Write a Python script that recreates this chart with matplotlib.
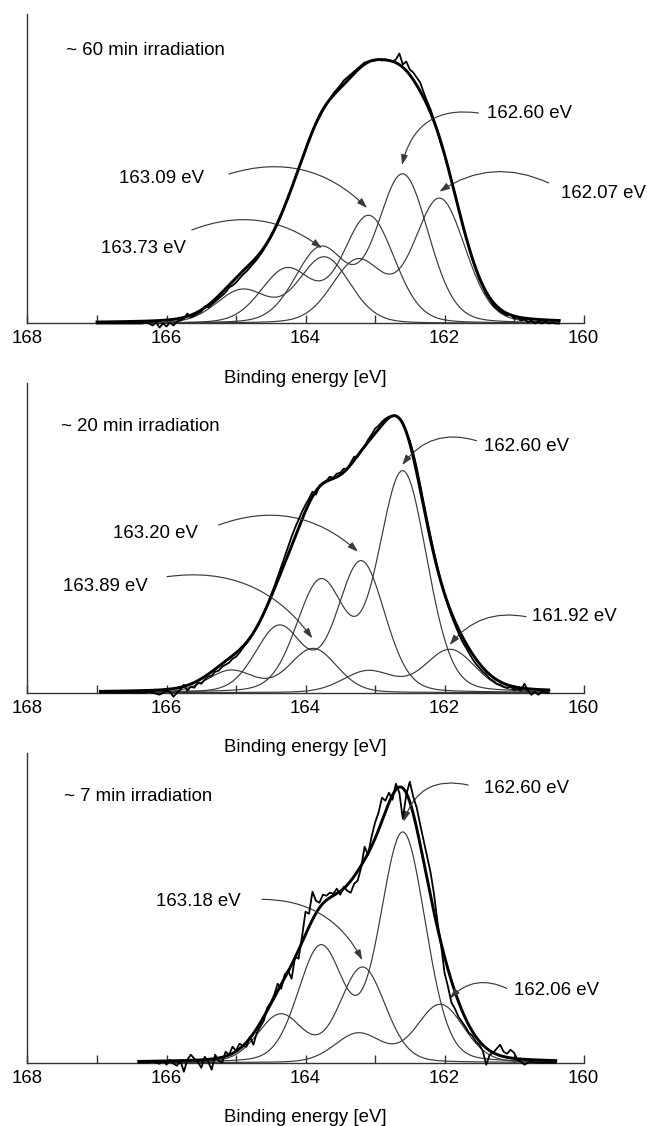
import numpy as np
import matplotlib
matplotlib.use('Agg')
import matplotlib.pyplot as plt

plt.rcParams['font.family'] = ['Liberation Sans', 'DejaVu Sans']

# ------------------------------------------------------------------ data
x_label = 'Binding energy [eV]'
x_major_ticks = [168, 166, 164, 162, 160]
x_minor_ticks = [167, 165, 163, 161]
SO_SPLIT = 1.18      # S 2p3/2 - 2p1/2 splitting (eV)
SO_RATIO = 0.5       # 2p1/2 : 2p3/2 ratio
STEP = 0.05          # data spacing (eV)
LORENTZ = 0.15       # Lorentzian fraction of the line shape

# ~60 min
p1_title = '~ 60 min irradiation'
p1_centers = [162.07, 162.60, 163.09, 163.73]
p1_heights = [124, 148, 107, 66]
p1_fwhm = [0.87, 0.87, 0.87, 0.87]
p1_start = 167.0
p1_counts = [0, 0, 0, 0, 0, 0, 0, 0, 0, 0, 0, 0, 0, 0, 1, 0,
             -2, 1, -4, 0, -3, 1, -2, 2, 3, 5, 10, 6, 8, 10, 12, 17, 16, 19,
             22, 25, 28, 31, 36, 38, 41, 45, 49, 52, 56, 60, 64, 69, 74, 80, 86,
             93, 100, 108, 117, 126, 135, 145, 155, 164, 174, 184, 192, 200, 206, 213, 219, 224, 230, 234, 238,
             243, 246, 249, 252, 255, 258, 261, 262, 263, 263, 264, 263, 264, 263, 262, 264, 270, 259, 262, 254, 251, 246,
             241, 231, 222, 214, 203, 193, 179, 169, 156, 143, 130, 115, 102, 88, 77, 64, 54, 44, 37, 29,
             24, 18, 15, 12, 10, 8, 9, 5, 6, 3, 5, 1, 3, 0, 2, 0, 2, 0, 1, 0, 0]
p1_labels = ['162.60 eV', '162.07 eV', '163.09 eV', '163.73 eV']

# ~20 min
p2_title = '~ 20 min irradiation'
p2_centers = [161.92, 162.60, 163.20, 163.89]
p2_heights = [43, 220, 131, 44]
p2_fwhm = [0.85, 0.82, 0.80, 0.80]
p2_start = 166.95
p2_counts = [0, 0, 0, 0, 0, 0, 0, 0, 0, 0, 0, 0, 0, 0,
             1, 0, -1, -2, 0, 2, 1, -4, 0, 3, 8, 2,
             6, 5, 10, 9, 13, 16, 17, 21, 22, 26, 28, 30, 34, 36, 40,
             45, 49, 54, 60, 66, 72, 80, 88, 97, 106, 116, 126, 136, 146, 156, 165, 173, 181, 188, 194,
             201, 198, 207, 210, 212, 216, 215, 219, 220, 224, 224, 230, 236, 236, 242, 246, 253, 258, 264, 267,
             271, 274, 276, 277,
             277, 274, 270, 261, 252, 240, 225, 208, 190, 173, 156, 140, 125, 111, 98, 87, 77, 68, 60, 52,
             46, 40, 34, 29, 25, 21, 18, 14, 12, 9, 8, 6, 5, 6, 3, 4, 2, 9, 2, -2, 1, -2, 1, 0, 0]
p2_labels = ['162.60 eV', '163.20 eV', '163.89 eV', '161.92 eV']

# ~7 min
p3_title = '~ 7 min irradiation'
p3_centers = [162.06, 162.60, 163.18]
p3_heights = [58, 229, 95]
p3_fwhm = [0.80, 0.77, 0.77]
p3_start = 166.4
p3_counts = [0, 0, 0, 0, 1, 0, -1, 2, -2, 3, -1, -3, 2, -9,
             3, 8, 4, 1, -5, 6, 1, -7, 8, 2, 0, 11, 8, 16, 12, 19, 17, 16,
             26, 18, 30, 36, 42, 55, 60, 68, 79, 74, 88, 92, 84, 106, 104, 126, 151, 149,
             171, 162, 160, 168, 167, 170, 169, 174, 168, 176, 172, 170, 179, 182, 195, 216, 208,
             226, 240, 250, 265, 262, 270, 263, 279, 270, 244, 268, 281, 266, 255,
             238, 222, 206, 190, 168, 140, 118, 90, 76, 60, 54, 46, 41, 36, 30, 27, 21, 18, 12, -2,
             8, 10, 14, 18, 11, 9, 13, 10, 3, 1, -2, 0, 1, 0, 0, 0, 0, 0, 0, 0]
p3_labels = ['162.60 eV', '163.18 eV', '162.06 eV']

# ------------------------------------------------------------------ layout / style
FS = 13.4
COMP_COLOR = '#3a3a3a'
AX_COLOR = '#333333'
AX_LEFT, AX_WIDTH, AX_HEIGHT = 0.0425, 0.8594, 0.2753
YMAX = 310

# (text x, text y, ha, arrow start x, y, arrow end x, y, rad)
p1_annot = [(161.388, 210.5, 'left', 161.511, 210.5, 162.612, 158.5, 0.45),
            (160.323, 130.5, 'left', 160.501, 140.5, 162.073, 131.8, 0.28),
            (165.46, 145.5, 'right', 165.101, 149.5, 163.115, 115.5, -0.3),
            (165.719, 75.5, 'right', 165.636, 93.5, 163.765, 75.2, -0.28)]
p2_annot = [(161.439, 246.7, 'left', 161.54, 252.0, 162.609, 227.7, 0.35),
            (165.547, 159.4, 'right', 165.25, 167.7, 163.245, 141.0, -0.3),
            (166.27, 106.0, 'right', 165.993, 116.0, 163.902, 54.4, -0.3),
            (160.741, 76.0, 'left', 160.827, 76.0, 161.925, 47.7, 0.3)]
p3_annot = [(161.439, 274.4, 'left', 161.659, 277.7, 162.59, 241.0, 0.45),
            (164.928, 161.7, 'right', 164.626, 163.4, 163.184, 102.7, -0.3),
            (161.006, 72.0, 'left', 161.106, 74.4, 161.925, 64.4, 0.35)]


def pseudo_voigt(E, c, h, fwhm, m):
    x2 = (E - c) ** 2
    g = np.exp(-4 * np.log(2) * x2 / fwhm ** 2)
    lor = 1.0 / (1.0 + 4 * x2 / fwhm ** 2)
    return h * (m * lor + (1 - m) * g)


def doublet(E, c, h, fwhm, m):
    return pseudo_voigt(E, c, h, fwhm, m) + pseudo_voigt(E, c + SO_SPLIT, SO_RATIO * h, fwhm, m)


def draw(ax, title, centers, heights, fwhms, start, counts, labels, annots, title_pos):
    ax.patch.set_visible(False)
    counts = np.asarray(counts, dtype=float)
    E_data = start - STEP * np.arange(len(counts))
    E_fit = np.linspace(E_data[0], E_data[-1], 800)
    comps = [doublet(E_fit, c, h, w, LORENTZ) for c, h, w in zip(centers, heights, fwhms)]
    for comp in comps:
        ax.plot(E_fit, comp, color=COMP_COLOR, lw=0.85, zorder=2)
    ax.plot(E_fit, np.sum(comps, axis=0), color='black', lw=2.1, zorder=3)
    ax.plot(E_data, counts, color='black', lw=1.3, zorder=4, clip_on=False)

    ax.set_xlim(168, 160)
    ax.set_ylim(0, YMAX)
    for s in ('top', 'right'):
        ax.spines[s].set_visible(False)
    for s in ('left', 'bottom'):
        ax.spines[s].set_color(AX_COLOR)
        ax.spines[s].set_linewidth(1.0)
    ax.set_yticks([])
    ax.set_xticks(x_major_ticks)
    ax.set_xticks(x_minor_ticks, minor=True)
    ax.set_xticklabels([str(t) for t in x_major_ticks])
    ax.tick_params(axis='x', which='both', direction='in', length=6, width=1.0,
                   color=AX_COLOR, labelsize=FS, pad=5)
    ax.set_xlabel(x_label, fontsize=FS, labelpad=16)

    ax.text(title_pos[0], title_pos[1], title, fontsize=FS, ha='left', va='center')
    for lab, (tx, ty, ha, sx, sy, ex, ey, rad) in zip(labels, annots):
        ax.text(tx, ty, lab, fontsize=FS, ha=ha, va='center', clip_on=False)
        ax.annotate('', xy=(ex, ey), xytext=(sx, sy), annotation_clip=False,
                    arrowprops=dict(arrowstyle='-|>,head_length=0.6,head_width=0.2',
                                    connectionstyle='arc3,rad=%s' % rad,
                                    color=COMP_COLOR, lw=0.85, shrinkA=0, shrinkB=0))


fig = plt.figure(figsize=(6.47, 11.26), dpi=100)
ax1 = fig.add_axes([AX_LEFT, 0.7127, AX_WIDTH, AX_HEIGHT])
ax2 = fig.add_axes([AX_LEFT, 0.3848, AX_WIDTH, AX_HEIGHT])
ax3 = fig.add_axes([AX_LEFT, 0.0562, AX_WIDTH, AX_HEIGHT])

draw(ax1, p1_title, p1_centers, p1_heights, p1_fwhm, p1_start, p1_counts,
     p1_labels, p1_annot, (167.446, 273.5))
draw(ax2, p2_title, p2_centers, p2_heights, p2_fwhm, p2_start, p2_counts,
     p2_labels, p2_annot, (167.518, 266.0))
draw(ax3, p3_title, p3_centers, p3_heights, p3_fwhm, p3_start, p3_counts,
     p3_labels, p3_annot, (167.475, 266.7))

fig.savefig('out.png', dpi=100)
